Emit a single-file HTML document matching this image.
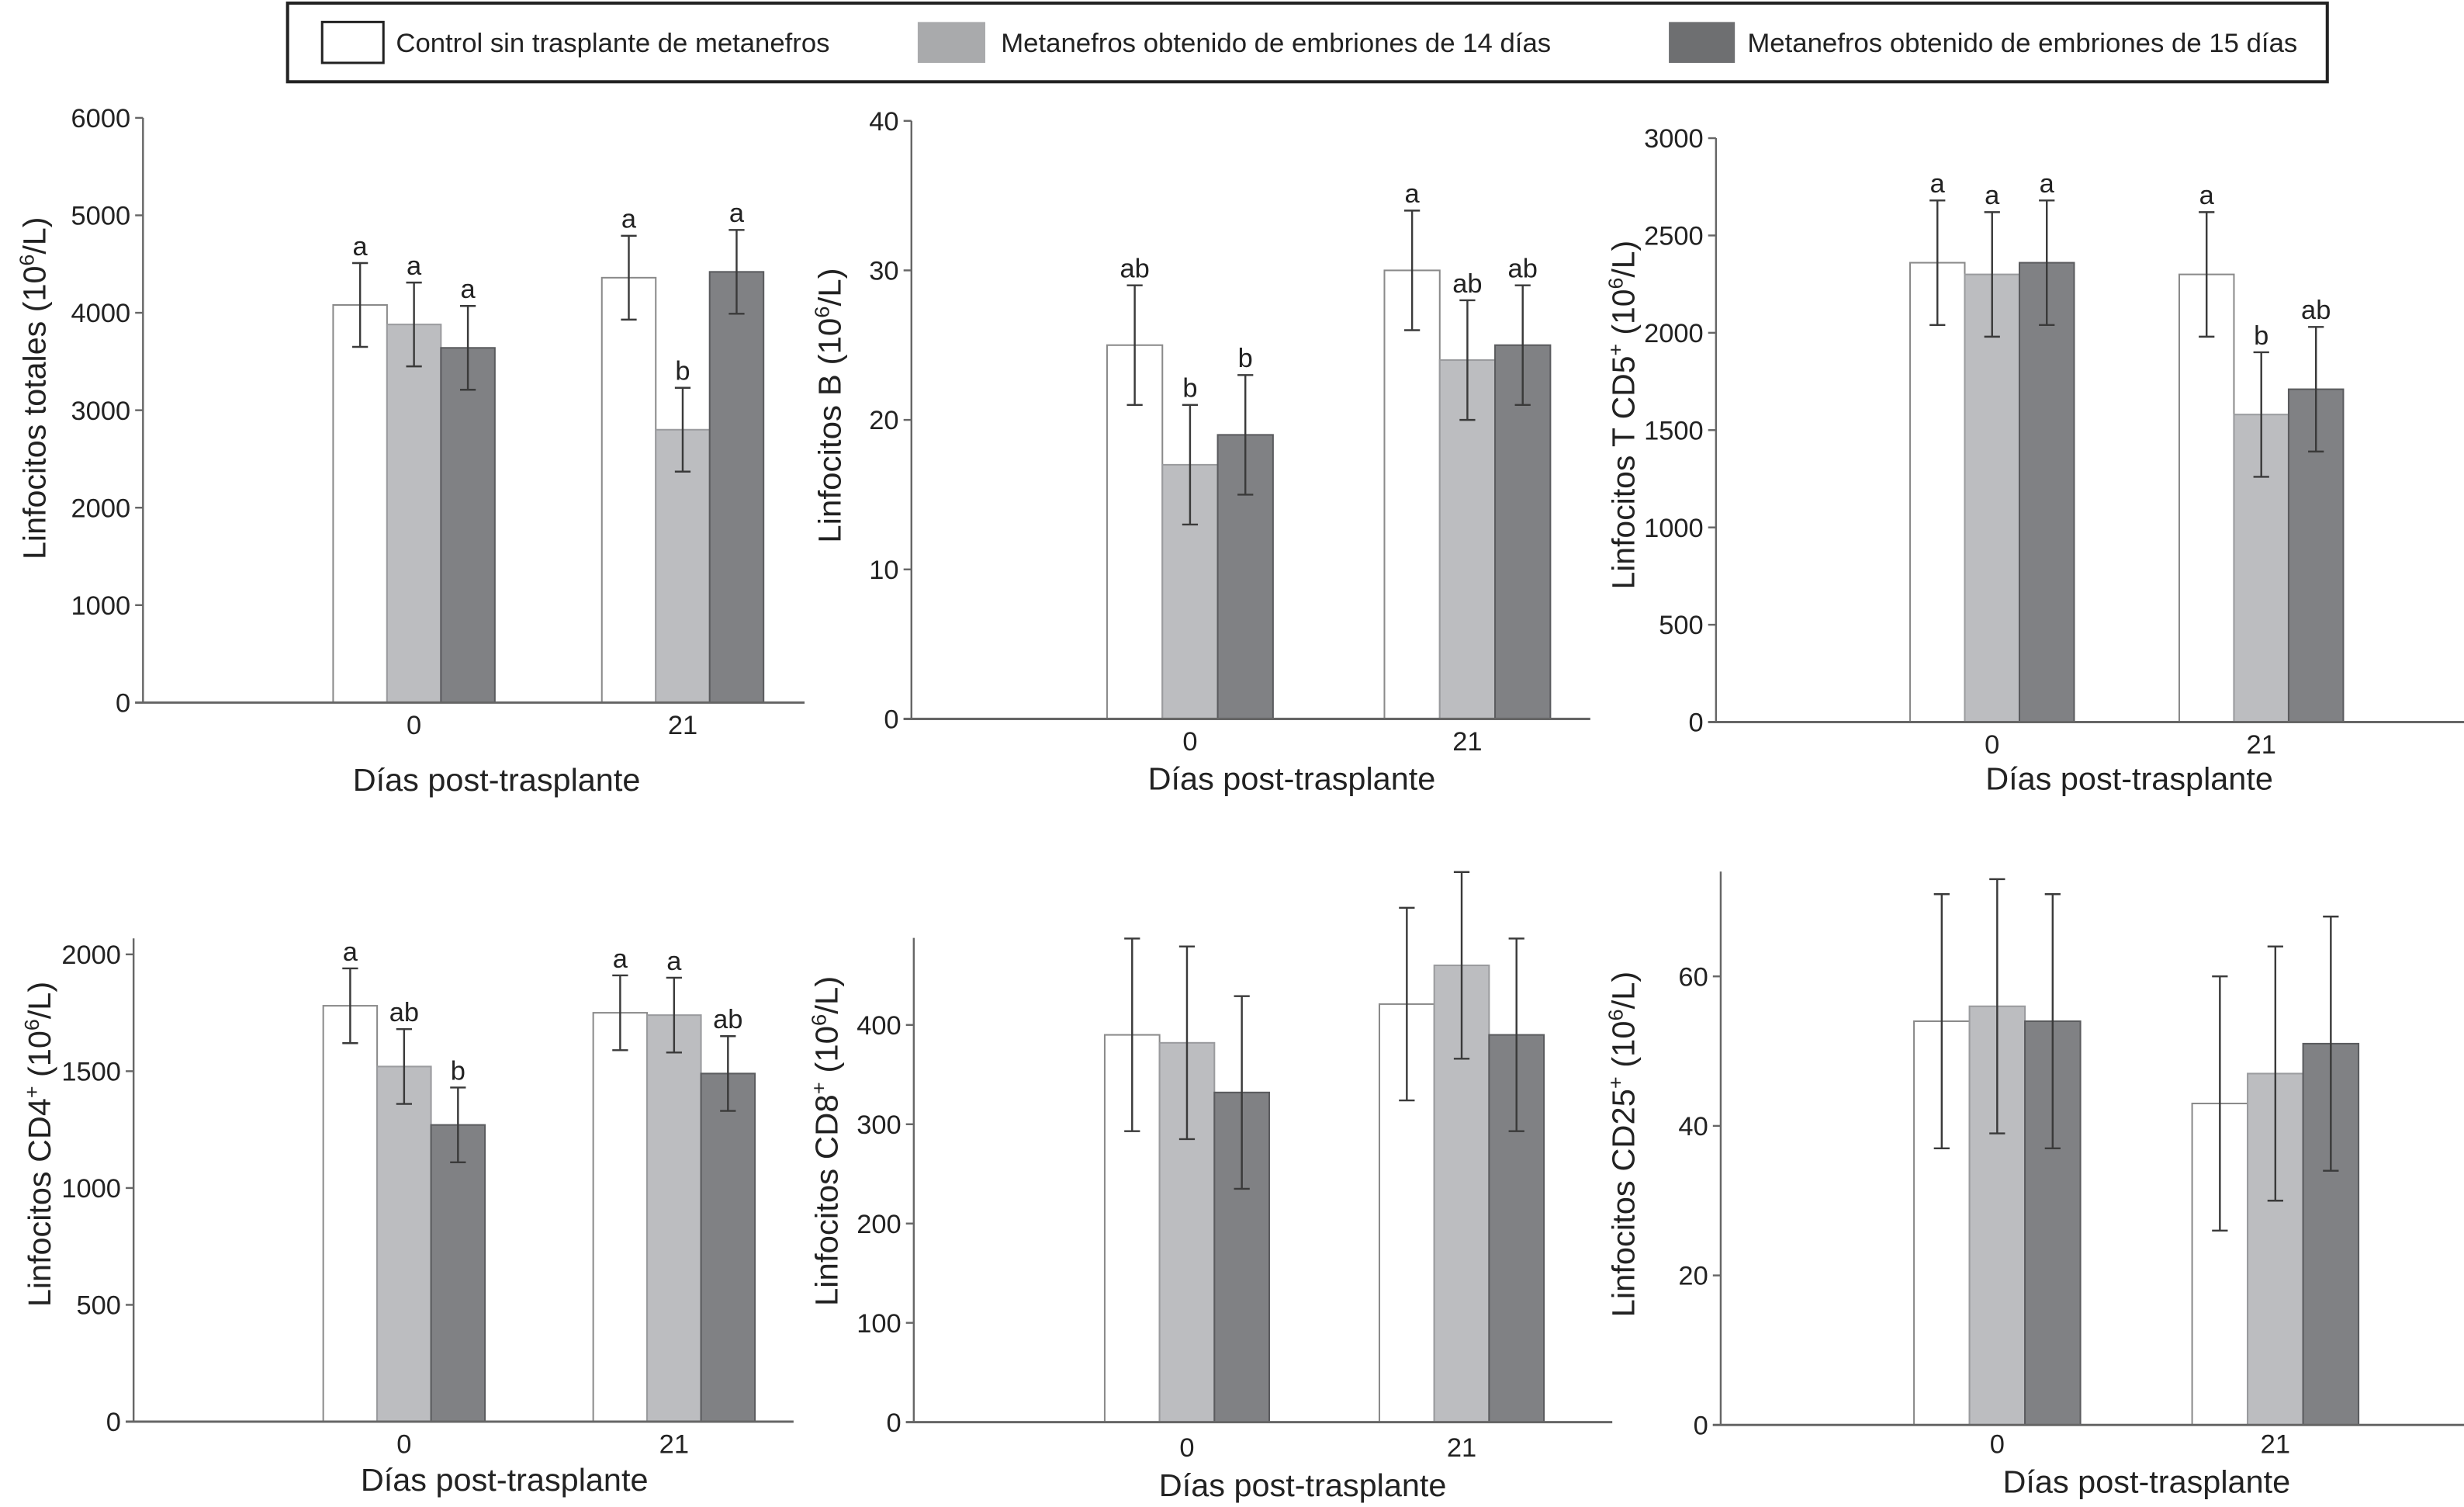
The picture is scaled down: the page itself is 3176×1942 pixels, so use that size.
<!DOCTYPE html>
<html><head><meta charset="utf-8"><style>
html,body{margin:0;padding:0;background:#fff}
svg{display:block}
text{font-family:"Liberation Sans Narrow","Liberation Sans",sans-serif;fill:#222}
</style></head><body>
<svg id="fig" width="3176" height="1942" viewBox="0 0 1568 958.8" preserveAspectRatio="none" xmlns="http://www.w3.org/2000/svg">
<g>
<rect x="183" y="2" width="1298" height="50" fill="#fff" stroke="#222" stroke-width="2"/>
<rect x="205" y="14" width="39" height="26" fill="#fff" stroke="#222" stroke-width="1.5"/>
<text x="252" y="33" font-size="17" textLength="276" lengthAdjust="spacingAndGlyphs">Control sin trasplante de metanefros</text>
<rect x="584" y="14" width="43" height="26" fill="#a9aaac"/>
<text x="637" y="33" font-size="17" textLength="350" lengthAdjust="spacingAndGlyphs">Metanefros obtenido de embriones de 14 días</text>
<rect x="1062" y="14" width="42" height="26" fill="#6e6f71"/>
<text x="1112" y="33" font-size="17" textLength="350" lengthAdjust="spacingAndGlyphs">Metanefros obtenido de embriones de 15 días</text>
</g>
</svg>
<script>
// ---- data ----
const categories = ["0", "21"];
const seriesNames = ["Control", "Metanefros 14 días", "Metanefros 15 días"];
// Panel 1: Linfocitos totales
const p1Ticks = [0, 1000, 2000, 3000, 4000, 5000, 6000];
const p1Values = [[4080, 3880, 3640], [4360, 2800, 4420]];
const p1Err = [[430, 430, 430], [430, 430, 430]];
const p1Letters = [["a", "a", "a"], ["a", "b", "a"]];
// Panel 2: Linfocitos B
const p2Ticks = [0, 10, 20, 30, 40];
const p2Values = [[25, 17, 19], [30, 24, 25]];
const p2Err = [[4, 4, 4], [4, 4, 4]];
const p2Letters = [["ab", "b", "b"], ["a", "ab", "ab"]];
// Panel 3: Linfocitos T CD5+
const p3Ticks = [0, 500, 1000, 1500, 2000, 2500, 3000];
const p3Values = [[2360, 2300, 2360], [2300, 1580, 1710]];
const p3Err = [[320, 320, 320], [320, 320, 320]];
const p3Letters = [["a", "a", "a"], ["a", "b", "ab"]];
// Panel 4: CD4+
const p4Ticks = [0, 500, 1000, 1500, 2000];
const p4Values = [[1780, 1520, 1270], [1750, 1740, 1490]];
const p4Err = [[160, 160, 160], [160, 160, 160]];
const p4Letters = [["a", "ab", "b"], ["a", "a", "ab"]];
// Panel 5: CD8+
const p5Ticks = [0, 100, 200, 300, 400];
const p5Values = [[390, 382, 332], [421, 460, 390]];
const p5Err = [[97, 97, 97], [97, 94, 97]];
const p5Letters = [["", "", ""], ["", "", ""]];
// Panel 6: CD25+
const p6Ticks = [0, 20, 40, 60];
const p6Values = [[54, 56, 54], [43, 47, 51]];
const p6Err = [[17, 17, 17], [17, 17, 17]];
const p6Letters = [["", "", ""], ["", "", ""]];

const NS = "http://www.w3.org/2000/svg";
const svg = document.getElementById("fig");
function mk(tag, attrs, parent) {
  const e = document.createElementNS(NS, tag);
  for (const k in attrs) e.setAttribute(k, attrs[k]);
  parent.appendChild(e);
  return e;
}
const fills = ["#ffffff", "#bcbdc0", "#808184"];
const strokes = ["#8a8a8a", "#9a9b9e", "#5a5b5e"];

function panel(cfg, ticks, values, err, letters) {
  const g = mk("g", {}, svg);
  
  
  const maxT = ticks[ticks.length - 1];
  const y = v => cfg.y0 - v / maxT * (cfg.y0 - cfg.yMaxPix);
  const x = (ci, si) => cfg.groups[ci] + si * cfg.bw;
  // y axis
  const ya = mk("line", {x1: cfg.ax, x2: cfg.ax, y1: cfg.top, y2: cfg.y0, stroke: "#666", "stroke-width": 1.2}, g);
  
  
  ticks.forEach(t => {
    const tl = mk("line", {x1: cfg.ax - 5, x2: cfg.ax, y1: y(t), y2: y(t), stroke: "#666", "stroke-width": 1.2}, g);
    
    
    const tx = mk("text", {x: cfg.ax - 8, y: y(t) + 6, "font-size": 17, "text-anchor": "end"}, g);
    
    
    tx.textContent = t;
  });
  // bars
  values.forEach((grp, ci) => {
    grp.forEach((v, si) => {
      const r = mk("rect", {x: x(ci, si), y: y(v), width: cfg.bw, height: cfg.y0 - y(v), fill: fills[si], stroke: strokes[si], "stroke-width": 1}, g);
      
      
      const cx = x(ci, si) + cfg.bw / 2;
      const hi = y(v + err[ci][si]), lo = y(v - err[ci][si]);
      const eb = mk("path", {d: `M${cx},${hi}V${lo}M${cx-5},${hi}H${cx+5}M${cx-5},${lo}H${cx+5}`, stroke: "#3a3a3a", "stroke-width": 1.2, fill: "none"}, g);
      
      
      if (letters[ci][si]) {
        const lt = mk("text", {x: cx, y: hi - 5, "font-size": 17, "text-anchor": "middle"}, g);
        
        
        lt.textContent = letters[ci][si];
      }
    });
    const cxl = cfg.groups[ci] + cfg.bw * 1.5;
    const cl = mk("text", {x: cxl, y: cfg.y0 + cfg.catOff, "font-size": 17, "text-anchor": "middle"}, g);
    
    
    cl.textContent = categories[ci];
  });
  // x axis
  const xa = mk("line", {x1: cfg.ax - 5, x2: cfg.xEnd, y1: cfg.y0, y2: cfg.y0, stroke: "#666", "stroke-width": 1.5}, g);
  
  
  const xt = mk("text", {x: cfg.titleX, y: cfg.y0 + cfg.titleOff, "font-size": 20, "text-anchor": "middle", textLength: 183, lengthAdjust: "spacingAndGlyphs"}, g);
  
  
  xt.textContent = "Días post-trasplante";
  const yt = mk("text", {x: 0, y: 0, "font-size": 20, "text-anchor": "middle", textLength: cfg.ylen, lengthAdjust: "spacingAndGlyphs", transform: `translate(${cfg.ytx + 7},${cfg.yty}) rotate(-90)`}, g);
  
  
  yt.innerHTML = cfg.ytitle;
}
const sup = s => `<tspan baseline-shift="super" font-size="13">${s}</tspan>`;
panel({name: "panel-linfocitos-totales", ax: 91, y0: 447, yMaxPix: 75, top: 75, xEnd: 512, groups: [212, 383], bw: 34.3, catOff: 20, titleOff: 56, titleX: 316, ytx: 22, yty: 247, ylen: 218, ytitle: "Linfocitos totales (10" + sup("6") + "/L)"}, p1Ticks, p1Values, p1Err, p1Letters);
panel({name: "panel-linfocitos-b", ax: 580, y0: 457.4, yMaxPix: 76.9, top: 76.9, xEnd: 1012, groups: [704.5, 881], bw: 35.2, catOff: 20, titleOff: 45, titleX: 822, ytx: 528, yty: 258, ylen: 175, ytitle: "Linfocitos B (10" + sup("6") + "/L)"}, p2Ticks, p2Values, p2Err, p2Letters);
panel({name: "panel-linfocitos-t-cd5", ax: 1092, y0: 459.4, yMaxPix: 87.9, top: 87.9, xEnd: 1568, groups: [1215.5, 1386.8], bw: 34.8, catOff: 20, titleOff: 43, titleX: 1355, ytx: 1033, yty: 264, ylen: 222, ytitle: "Linfocitos T CD5" + sup("+") + " (10" + sup("6") + "/L)"}, p3Ticks, p3Values, p3Err, p3Letters);
panel({name: "panel-linfocitos-cd4", ax: 85, y0: 904.5, yMaxPix: 607.2, top: 597, xEnd: 505, groups: [205.7, 377.5], bw: 34.3, catOff: 20, titleOff: 44, titleX: 321, ytx: 25, yty: 728, ylen: 207, ytitle: "Linfocitos CD4" + sup("+") + " (10" + sup("6") + "/L)"}, p4Ticks, p4Values, p4Err, p4Letters);
panel({name: "panel-linfocitos-cd8", ax: 581.5, y0: 904.8, yMaxPix: 652.1, top: 596.7, xEnd: 1026, groups: [703, 877.8], bw: 34.9, catOff: 22, titleOff: 47, titleX: 829, ytx: 526, yty: 726, ylen: 210, ytitle: "Linfocitos CD8" + sup("+") + " (10" + sup("6") + "/L)"}, p5Ticks, p5Values, p5Err, p5Letters);
panel({name: "panel-linfocitos-cd25", ax: 1095, y0: 906.6, yMaxPix: 621.2, top: 554.5, xEnd: 1568, groups: [1218, 1395], bw: 35.3, catOff: 18, titleOff: 43, titleX: 1366, ytx: 1033, yty: 728, ylen: 220, ytitle: "Linfocitos CD25" + sup("+") + " (10" + sup("6") + "/L)"}, p6Ticks, p6Values, p6Err, p6Letters);
</script>
</body></html>
